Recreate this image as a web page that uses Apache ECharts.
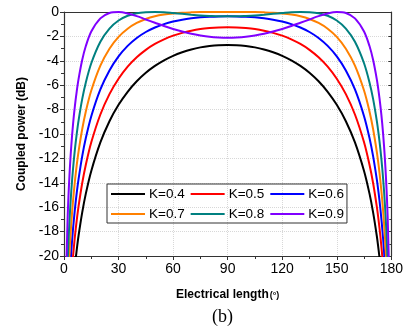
<!DOCTYPE html>
<html>
<head>
<meta charset="utf-8">
<script src="https://cdn.jsdelivr.net/npm/echarts@6/dist/echarts.min.js"></script>
<style>
  html, body { margin: 0; padding: 0; background: #fff; }
  #chart { width: 406px; height: 332px; }
</style>
</head>
<body>
<div id="chart"></div>
<script>
// electrical length (deg)
const angles = [1, 2, 3, 4, 5, 6, 7, 8, 10, 12, 15, 20, 25, 30, 35, 40, 45, 50, 55, 60, 65, 70, 75, 80, 85, 90,
  95, 100, 105, 110, 115, 120, 125, 130, 135, 140, 145, 150, 155, 160, 165, 168, 170, 172, 173, 174, 175, 176, 177, 178, 179];

// coupled power (dB), one array per K
const k04 = [null, null, null, null, -22.39, -20.81, -19.49, -18.34, -16.44, -14.89, -13.03, -10.69, -8.95, -7.61, -6.54, -5.68, -4.98, -4.42, -3.96, -3.59, -3.30, -3.07, -2.90, -2.79, -2.72, -2.70,
  -2.72, -2.79, -2.90, -3.07, -3.30, -3.59, -3.96, -4.42, -4.98, -5.68, -6.54, -7.61, -8.95, -10.69, -13.03, -14.89, -16.44, -18.34, -19.49, -20.81, -22.39, null, null, null, null];
const k05 = [null, null, null, -21.89, -19.97, -18.40, -17.08, -15.94, -14.04, -12.52, -10.68, -8.40, -6.73, -5.47, -4.48, -3.71, -3.10, -2.62, -2.24, -1.94, -1.71, -1.53, -1.40, -1.32, -1.27, -1.25,
  -1.27, -1.32, -1.40, -1.53, -1.71, -1.94, -2.24, -2.62, -3.10, -3.71, -4.48, -5.47, -6.73, -8.40, -10.68, -12.52, -14.04, -15.94, -17.08, -18.40, -19.97, -21.89, null, null, null];
const k06 = [null, null, -22.12, -19.63, -17.71, -16.15, -14.83, -13.70, -11.83, -10.33, -8.54, -6.35, -4.79, -3.64, -2.78, -2.13, -1.64, -1.27, -0.99, -0.78, -0.63, -0.52, -0.44, -0.39, -0.36, -0.35,
  -0.36, -0.39, -0.44, -0.52, -0.63, -0.78, -0.99, -1.27, -1.64, -2.13, -2.78, -3.64, -4.79, -6.35, -8.54, -10.33, -11.83, -13.70, -14.83, -16.15, -17.71, -19.63, -22.12, null, null];
const k07 = [null, -23.31, -19.80, -17.32, -15.41, -13.86, -12.56, -11.44, -9.61, -8.15, -6.44, -4.40, -3.01, -2.04, -1.37, -0.90, -0.57, -0.35, -0.21, -0.12, -0.06, -0.03, -0.01, -0.01, 0, 0,
  0, -0.01, -0.01, -0.03, -0.06, -0.12, -0.21, -0.35, -0.57, -0.90, -1.37, -2.04, -3.01, -4.40, -6.44, -8.15, -9.61, -11.44, -12.56, -13.86, -15.41, -17.32, -19.80, -23.31, null];
const k08 = [-26.65, -20.64, -17.15, -14.68, -12.79, -11.26, -9.99, -8.90, -7.14, -5.77, -4.20, -2.44, -1.36, -0.70, -0.31, -0.10, -0.02, 0, -0.03, -0.09, -0.15, -0.22, -0.28, -0.32, -0.35, -0.35,
  -0.35, -0.32, -0.28, -0.22, -0.15, -0.09, -0.03, 0, -0.02, -0.10, -0.31, -0.70, -1.36, -2.44, -4.20, -5.77, -7.14, -8.90, -9.99, -11.26, -12.79, -14.68, -17.15, -20.64, -26.65];
const k09 = [-22.86, -16.87, -13.41, -10.99, -9.15, -7.69, -6.50, -5.50, -3.94, -2.79, -1.60, -0.52, -0.08, 0, -0.12, -0.34, -0.61, -0.88, -1.15, -1.39, -1.60, -1.78, -1.92, -2.03, -2.09, -2.11,
  -2.09, -2.03, -1.92, -1.78, -1.60, -1.39, -1.15, -0.88, -0.61, -0.34, -0.12, 0, -0.08, -0.52, -1.60, -2.79, -3.94, -5.50, -6.50, -7.69, -9.15, -10.99, -13.41, -16.87, -22.86];

const seriesNames = ['K=0.4', 'K=0.5', 'K=0.6', 'K=0.7', 'K=0.8', 'K=0.9'];
const seriesData = [k04, k05, k06, k07, k08, k09];
const colors = ['#000000', '#ff0000', '#0000ff', '#ff8000', '#008080', '#8000ff'];

const xTicks = [0, 30, 60, 90, 120, 150, 180];
const yTicks = [-20, -18, -16, -14, -12, -10, -8, -6, -4, -2, 0];

const chart = echarts.init(document.getElementById('chart'), null, { renderer: 'canvas' });

const font = 'Liberation Sans, Arial, sans-serif';

chart.setOption({
  animation: false,
  backgroundColor: '#fff',
  color: colors,
  grid: { left: 64, right: 14, top: 12, bottom: 76 },
  legend: {
    data: seriesNames,
    left: 107,
    top: 184,
    width: 244,
    orient: 'horizontal',
    itemWidth: 34,
    itemHeight: 2,
    itemGap: 6,
    padding: [3, 3, 2, 4],
    borderColor: '#333',
    borderWidth: 1,
    icon: 'rect',
    textStyle: { fontFamily: font, fontSize: 13.5, color: '#000', padding: [0, 0, 0, -1] },
  },
  xAxis: [
    {
      type: 'value',
      min: 0,
      max: 180,
      interval: 30,
      name: 'Electrical length{s|(°)}',
      nameLocation: 'middle',
      nameGap: 33,
      nameTextStyle: {
        fontFamily: font, fontWeight: 'bold', fontSize: 12, color: '#000',
        rich: { s: { fontFamily: font, fontSize: 9, color: '#000', padding: [1, 0, 0, 1] } },
      },
      axisLine: { show: true, onZero: false, lineStyle: { color: '#333', width: 1.2 } },
      axisTick: { show: true, length: 4, lineStyle: { color: '#333' } },
      minorTick: { show: true, splitNumber: 2, length: 3, lineStyle: { color: '#333' } },
      axisLabel: { fontFamily: font, fontSize: 14, color: '#000', margin: 6,
        formatter: (v) => (xTicks.includes(v) ? String(v) : '') },
      splitLine: { show: true, lineStyle: { color: '#d8d8d8', type: 'dotted', width: 1 } },
    },
    {
      type: 'value', position: 'top', min: 0, max: 180, interval: 30,
      axisLine: { show: true, onZero: false, lineStyle: { color: '#333', width: 1.2 } },
      axisTick: { show: false }, axisLabel: { show: false }, splitLine: { show: false },
    },
  ],
  yAxis: [
    {
      type: 'value',
      min: -20,
      max: 0,
      interval: 2,
      name: 'Coupled power (dB)',
      nameLocation: 'middle',
      nameGap: 34,
      nameTextStyle: { fontFamily: font, fontWeight: 'bold', fontSize: 12, color: '#000' },
      axisLine: { show: true, onZero: false, lineStyle: { color: '#333', width: 1.2 } },
      axisTick: { show: true, length: 4, lineStyle: { color: '#333' } },
      minorTick: { show: true, splitNumber: 2, length: 3, lineStyle: { color: '#333' } },
      axisLabel: { fontFamily: font, fontSize: 14, color: '#000', margin: 5,
        formatter: (v) => (yTicks.includes(v) ? String(v) : '') },
      splitLine: { show: true, lineStyle: { color: '#d8d8d8', type: 'dotted', width: 1 } },
    },
    {
      type: 'value', position: 'right', min: -20, max: 0, interval: 2,
      axisLine: { show: true, onZero: false, lineStyle: { color: '#333', width: 1.2 } },
      axisTick: { show: true, inside: true, length: 3, lineStyle: { color: '#333' } },
      minorTick: { show: true, splitNumber: 2, length: 2, lineStyle: { color: '#333' } },
      axisLabel: { show: false }, splitLine: { show: false },
    },
  ],
  graphic: [
    {
      type: 'text',
      left: 212,
      top: 308,
      style: { text: '(b)', font: '18px "Liberation Serif", "Times New Roman", serif', fill: '#000' },
    },
  ],
  series: seriesNames.map((name, i) => ({
    name,
    type: 'line',
    xAxisIndex: 0,
    yAxisIndex: 0,
    data: angles.map((a, j) => [a, seriesData[i][j]]),
    showSymbol: false,
    smooth: 0.3,
    clip: true,
    lineStyle: { width: 2, color: colors[i] },
    itemStyle: { color: colors[i] },
  })),
});
</script>
</body>
</html>
